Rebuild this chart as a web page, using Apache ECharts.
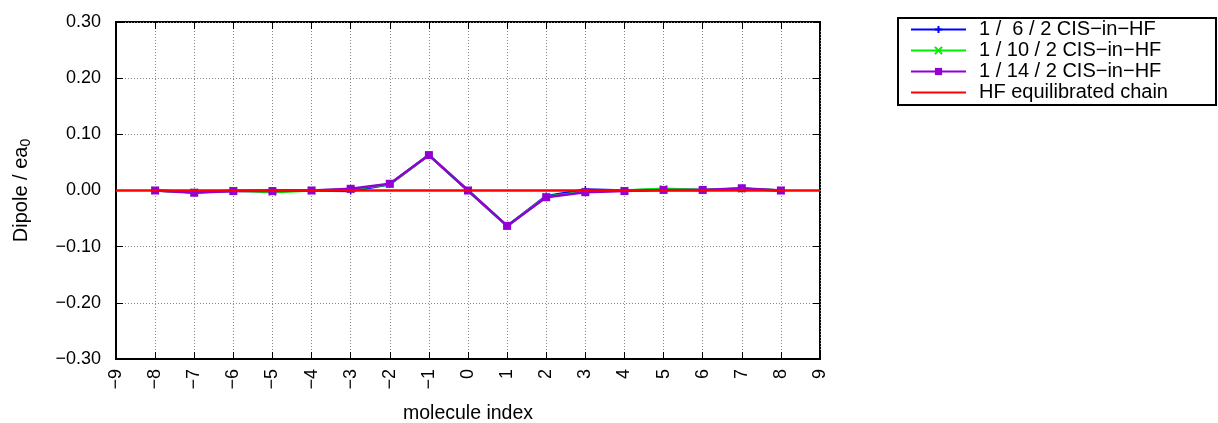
<!DOCTYPE html>
<html><head><meta charset="utf-8">
<script src="https://cdn.jsdelivr.net/npm/echarts@6/dist/echarts.min.js"></script>
<style>html,body{margin:0;padding:0;background:#fff}#c{width:1218px;height:423px}</style>
</head><body><div id="c"></div>
<script>
var indices = [-8,-7,-6,-5,-4,-3,-2,-1,0,1,2,3,4,5,6,7,8];
var cis6  = [0,-0.003,-0.001,0,0,-0.001,0.011,0.063,0,-0.063,-0.010,0.002,0,0.002,0.001,0.003,0];
var cis10 = [0,-0.003,0,-0.003,0,0.002,0.011,0.063,0,-0.063,-0.011,-0.002,0,0.003,0.001,0.003,0];
var cis14 = [0,-0.004,-0.001,-0.001,0,0.003,0.012,0.063,0,-0.063,-0.012,-0.003,-0.001,0.001,0.001,0.004,0];
var hfX = [-9, 9];
var hfY = [0, 0];
var seriesNames = ['1 /  6 / 2 CIS\u2212in\u2212HF','1 / 10 / 2 CIS\u2212in\u2212HF','1 / 14 / 2 CIS\u2212in\u2212HF','HF equilibrated chain'];

function pairs(xs, ys){ return xs.map(function(x,i){return [x, ys[i]];}); }
function fmtMinus(s){ return String(s).replace('-', '\u2212'); }

var font = 'Liberation Sans, Arial, sans-serif';
var fs = 18;
var gridLine = {show:true, lineStyle:{color:'#888', width:1, type:[1,2]}};
var chart = echarts.init(document.getElementById('c'), null, {renderer:'canvas'});
chart.setOption({
  animation:false,
  backgroundColor:'#fff',
  grid:{left:116, right:398, top:22, bottom:64, show:true, borderColor:'#000', borderWidth:2, containLabel:false, outerBoundsMode:'none'},
  legend:{
    orient:'vertical', left:898, top:18,
    padding:[1,48,2,12], itemGap:0, itemWidth:55, itemHeight:9,
    borderColor:'#000', borderWidth:2,
    textStyle:{fontFamily:font, fontSize:20, lineHeight:21, color:'#000', padding:[0,0,0,8]},
    data:[seriesNames[0], seriesNames[1], seriesNames[2], {name:seriesNames[3], itemStyle:{opacity:0}}]
  },
  xAxis:[{
    type:'value', min:-9, max:9, interval:1,
    name:'molecule index', nameLocation:'middle', nameGap:45,
    nameTextStyle:{fontFamily:font, fontSize:19.5, color:'#000'},
    axisLine:{show:true, onZero:false, lineStyle:{color:'#000', width:2}},
    axisTick:{show:true, inside:true, length:7, lineStyle:{color:'#000', width:1}},
    axisLabel:{rotate:90, margin:10, fontFamily:font, fontSize:fs, color:'#000', formatter:function(v){return fmtMinus(v);}},
    splitLine:gridLine
  },{
    type:'value', min:-9, max:9, interval:1, position:'top',
    axisLine:{show:false, onZero:false}, axisTick:{show:true, inside:true, length:7, lineStyle:{color:'#000'}},
    axisLabel:{show:false}, splitLine:{show:false}
  }],
  yAxis:[{
    type:'value', min:-0.3, max:0.3, interval:0.1,
    name:'Dipole / ea{sub|0}', nameLocation:'middle', nameGap:83, nameRotate:90,
    nameTextStyle:{fontFamily:font, fontSize:20, color:'#000', rich:{sub:{fontFamily:font, fontSize:14, color:'#000', verticalAlign:'bottom', padding:[10,0,0,0]}}},
    axisLine:{show:true, onZero:false, lineStyle:{color:'#000', width:2}},
    axisTick:{show:true, inside:true, length:7, lineStyle:{color:'#000', width:1}},
    axisLabel:{margin:15, fontFamily:font, fontSize:fs, color:'#000', formatter:function(v){return fmtMinus(v.toFixed(2));}},
    splitLine:gridLine
  },{
    type:'value', min:-0.3, max:0.3, interval:0.1, position:'right',
    axisLine:{show:false, onZero:false}, axisTick:{show:true, inside:true, length:7, lineStyle:{color:'#000'}},
    axisLabel:{show:false}, splitLine:{show:false}
  }],
  series:[
    {name:seriesNames[0], type:'line', data:pairs(indices, cis6), z:2,
     symbol:'path://M0,5L10,5M5,0L5,10', symbolSize:7,
     lineStyle:{color:'#0000ff', width:2.5}, itemStyle:{color:'#0000ff', borderColor:'#0000ff', borderWidth:1.5}},
    {name:seriesNames[1], type:'line', data:pairs(indices, cis10), z:3,
     symbol:'path://M0,0L10,10M10,0L0,10', symbolSize:7,
     lineStyle:{color:'#00ee00', width:2.5}, itemStyle:{color:'#00ee00', borderColor:'#00ee00', borderWidth:1.5}},
    {name:seriesNames[2], type:'line', data:pairs(indices, cis14), z:4,
     symbol:'rect', symbolSize:8,
     lineStyle:{color:'#9400d3', width:2.5}, itemStyle:{color:'#9400d3'}},
    {name:seriesNames[3], type:'line', data:pairs(hfX, hfY), z:5, showSymbol:false,
     symbol:'path://M0,0L10,0L10,1L0,1Z', symbolKeepAspect:true,
     lineStyle:{color:'#ff0000', width:2.5}, itemStyle:{color:'#ff0000', borderWidth:0}}
  ]
});
</script></body></html>
